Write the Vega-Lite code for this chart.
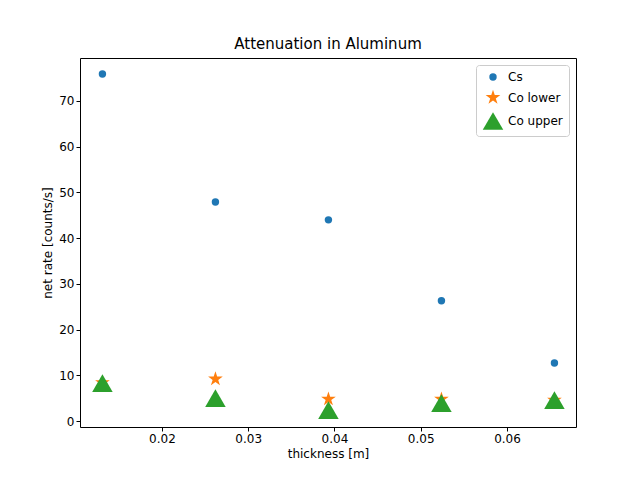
{
  "$schema": "https://vega.github.io/schema/vega-lite/v6.json",
  "width": 496,
  "height": 369,
  "autosize": "none",
  "padding": {"left": 80, "top": 58, "right": 64, "bottom": 53},
  "background": "white",
  "config": {
    "font": "DejaVu Sans",
    "view": {"stroke": "black", "strokeWidth": 1},
    "axis": {"grid": false, "domain": false, "tickColor": "black", "labelColor": "black", "titleColor": "black", "labelFontSize": 12, "titleFontSize": 12, "titleFontWeight": "normal", "tickSize": 4}
  },
  "title": {"text": "Attenuation in Aluminum", "fontSize": 15, "fontWeight": "normal", "offset": 6},
  "data": {"values": [
    {"t": 0.0131, "rate": 75.9, "series": "Cs"},
    {"t": 0.0262, "rate": 47.9, "series": "Cs"},
    {"t": 0.0393, "rate": 44.0, "series": "Cs"},
    {"t": 0.0524, "rate": 26.3, "series": "Cs"},
    {"t": 0.0655, "rate": 12.7, "series": "Cs"},
    {"t": 0.0131, "rate": 8.4, "series": "Co lower"},
    {"t": 0.0262, "rate": 9.2, "series": "Co lower"},
    {"t": 0.0393, "rate": 4.8, "series": "Co lower"},
    {"t": 0.0524, "rate": 4.8, "series": "Co lower"},
    {"t": 0.0655, "rate": 4.6, "series": "Co lower"},
    {"t": 0.0131, "rate": 8.3, "series": "Co upper"},
    {"t": 0.0262, "rate": 5.0, "series": "Co upper"},
    {"t": 0.0393, "rate": 2.4, "series": "Co upper"},
    {"t": 0.0524, "rate": 3.9, "series": "Co upper"},
    {"t": 0.0655, "rate": 4.6, "series": "Co upper"}
  ]},
  "mark": {"type": "point", "filled": true, "opacity": 1},
  "encoding": {
    "x": {"field": "t", "type": "quantitative", "title": "thickness [m]",
      "scale": {"domain": [0.0105, 0.068], "nice": false, "zero": false},
      "axis": {"values": [0.02, 0.03, 0.04, 0.05, 0.06], "format": ".2f"}},
    "y": {"field": "rate", "type": "quantitative", "title": "net rate [counts/s]",
      "scale": {"domain": [-1.3, 79.4], "nice": false},
      "axis": {"values": [0, 10, 20, 30, 40, 50, 60, 70]}},
    "color": {"field": "series", "type": "nominal",
      "scale": {"domain": ["Cs", "Co lower", "Co upper"], "range": ["#1f77b4", "#ff7f0e", "#2ca02c"]},
      "legend": {"title": null, "orient": "top-right", "offset": 7, "strokeColor": "#cccccc", "fillColor": "white", "padding": 6, "cornerRadius": 3, "labelFontSize": 12, "symbolSize": 150, "rowPadding": 6}},
    "shape": {"field": "series", "type": "nominal",
      "scale": {"domain": ["Cs", "Co lower", "Co upper"], "range": ["circle", "M0,-1L0.225,-0.309L0.951,-0.309L0.363,0.118L0.588,0.809L0,0.382L-0.588,0.809L-0.363,0.118L-0.951,-0.309L-0.225,-0.309Z", "triangle-up"]}},
    "size": {"field": "series", "type": "nominal", "legend": null,
      "scale": {"domain": ["Cs", "Co lower", "Co upper"], "range": [55, 420, 220]}}
  }
}
